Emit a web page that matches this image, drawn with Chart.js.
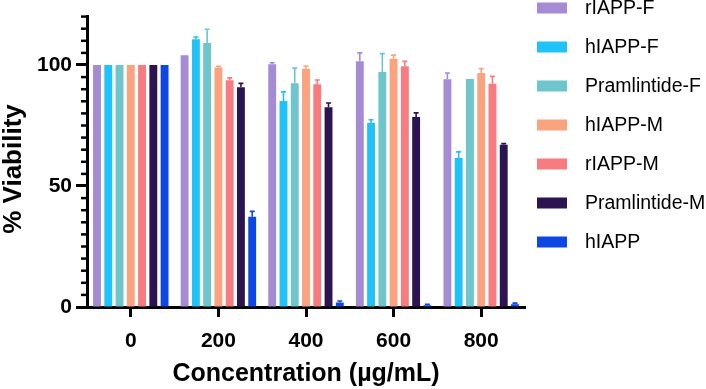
<!DOCTYPE html>
<html>
<head>
<meta charset="utf-8">
<script src="https://cdn.jsdelivr.net/npm/chart.js@4.4.1/dist/chart.umd.min.js"></script>
<style>
  html, body { margin: 0; padding: 0; background: #fff; }
  #wrap { width: 706px; height: 389px; }
</style>
</head>
<body>
<div id="wrap"><canvas id="chart" width="706" height="389"></canvas></div>
<script>
const categories = ["0", "200", "400", "600", "800"];

const seriesNames = ["rIAPP-F", "hIAPP-F", "Pramlintide-F", "hIAPP-M", "rIAPP-M", "Pramlintide-M", "hIAPP"];
const seriesColors = ["#a48bd4", "#1fc3f7", "#6ec5cb", "#fba27e", "#f77b7f", "#2b1450", "#0d48e4"];

// mean % viability per concentration
const rIAPP_F = [100, 104.0, 100.3, 101.5, 94.1];
const hIAPP_F = [100, 110.6, 85.1, 76.0, 61.6];
const pram_F = [100, 109.1, 92.5, 97.1, 94.2];
const hIAPP_M = [100, 99.0, 98.5, 102.6, 96.7];
const rIAPP_M = [100, 93.7, 92.0, 99.5, 92.3];
const pram_M = [100, 90.8, 82.5, 78.5, 67.0];
const hIAPP = [100, 37.3, 1.9, 0.7, 1.1];

// upper error (SD)
const rIAPP_F_err = [0, 0, 0.6, 3.5, 2.6];
const hIAPP_F_err = [0, 1.0, 3.8, 1.4, 2.5];
const pram_F_err = [0, 5.7, 6.2, 7.6, 0];
const hIAPP_M_err = [0, 0.5, 1.1, 1.5, 1.8];
const rIAPP_M_err = [0, 1.0, 1.8, 2.0, 3.0];
const pram_M_err = [0, 1.6, 1.8, 1.7, 0.5];
const hIAPP_err = [0, 2.2, 0.6, 0.4, 0.5];

const yTickLabels = [0, 50, 100];

const values = [rIAPP_F, hIAPP_F, pram_F, hIAPP_M, rIAPP_M, pram_M, hIAPP];
const errors = [rIAPP_F_err, hIAPP_F_err, pram_F_err, hIAPP_M_err, rIAPP_M_err, pram_M_err, hIAPP_err];

const FONT = "'Liberation Sans', Arial, sans-serif";

const datasets = seriesNames.map((name, i) => ({
  label: name,
  data: values[i],
  errors: errors[i],
  backgroundColor: seriesColors[i],
  borderWidth: 0,
  barPercentage: 0.7,
  categoryPercentage: 0.9
}));

// error bars (upper only) drawn on top of each bar
const errorBars = {
  id: "errorBars",
  afterDatasetsDraw(chart) {
    const { ctx, scales: { y } } = chart;
    chart.data.datasets.forEach((ds, i) => {
      const meta = chart.getDatasetMeta(i);
      meta.data.forEach((bar, j) => {
        const e = ds.errors[j];
        if (!e) return;
        const top = y.getPixelForValue(ds.data[j] + e);
        ctx.save();
        ctx.strokeStyle = ds.backgroundColor;
        ctx.lineWidth = 1.6;
        ctx.beginPath();
        ctx.moveTo(bar.x, bar.y);
        ctx.lineTo(bar.x, top);
        ctx.moveTo(bar.x - 2.5, top);
        ctx.lineTo(bar.x + 2.5, top);
        ctx.stroke();
        ctx.restore();
      });
    });
  }
};

// short minor ticks on the y axis
const minorTicks = {
  id: "minorTicks",
  afterDraw(chart) {
    const { ctx, scales: { y } } = chart;
    ctx.save();
    ctx.strokeStyle = "#000";
    ctx.lineWidth = 2.5;
    for (let v = 0; v <= 120; v += 5) {
      if (yTickLabels.includes(v)) continue;
      const py = y.getPixelForValue(v);
      ctx.beginPath();
      ctx.moveTo(y.right - 6, py);
      ctx.lineTo(y.right, py);
      ctx.stroke();
    }
    ctx.restore();
  }
};

// legend on the right
const sideLegend = {
  id: "sideLegend",
  afterDraw(chart) {
    const { ctx } = chart;
    ctx.save();
    ctx.font = "19.5px " + FONT;
    ctx.textBaseline = "middle";
    chart.data.datasets.forEach((ds, i) => {
      const cy = 8 + i * 39;
      ctx.fillStyle = ds.backgroundColor;
      ctx.fillRect(537, cy - 5.5, 30, 11);
      ctx.fillStyle = "#000";
      ctx.fillText(ds.label, 585, cy + 1);
    });
    ctx.restore();
  }
};

new Chart(document.getElementById("chart"), {
  type: "bar",
  data: { labels: categories, datasets: datasets },
  options: {
    responsive: false,
    animation: false,
    layout: { padding: { top: 16, right: 181, left: 0, bottom: 0 } },
    plugins: {
      legend: { display: false },
      tooltip: { enabled: false }
    },
    scales: {
      x: {
        grid: {
          display: true,
          drawOnChartArea: false,
          offset: false,
          tickLength: 10,
          tickWidth: 3,
          tickColor: "#000"
        },
        border: { display: true, width: 3, color: "#000" },
        ticks: {
          color: "#000",
          padding: 12,
          font: { family: FONT, size: 21, weight: "bold" }
        },
        title: {
          display: true,
          text: "Concentration (µg/mL)",
          color: "#000",
          padding: { top: 2, bottom: 2 },
          font: { family: FONT, size: 25, weight: "bold", lineHeight: 1 }
        },
        afterFit(scale) { scale.height = 82; }
      },
      y: {
        min: 0,
        max: 120,
        grid: {
          display: true,
          drawOnChartArea: false,
          tickLength: 11,
          tickWidth: 3,
          tickColor: (c) => (c.tick && yTickLabels.includes(c.tick.value) ? "#000" : "rgba(0,0,0,0)")
        },
        border: { display: true, width: 3, color: "#000" },
        ticks: {
          stepSize: 5,
          autoSkip: false,
          color: "#000",
          padding: 4,
          font: { family: FONT, size: 21, weight: "bold" },
          callback: (v) => (yTickLabels.includes(v) ? String(v) : "")
        },
        title: {
          display: true,
          text: "% Viability\u00a0\u00a0",
          color: "#000",
          padding: { top: 1, bottom: 0 },
          font: { family: FONT, size: 26, weight: "bold", lineHeight: 1 }
        },
        afterFit(scale) { scale.width = 87; }
      }
    }
  },
  plugins: [errorBars, minorTicks, sideLegend]
});
</script>
</body>
</html>
